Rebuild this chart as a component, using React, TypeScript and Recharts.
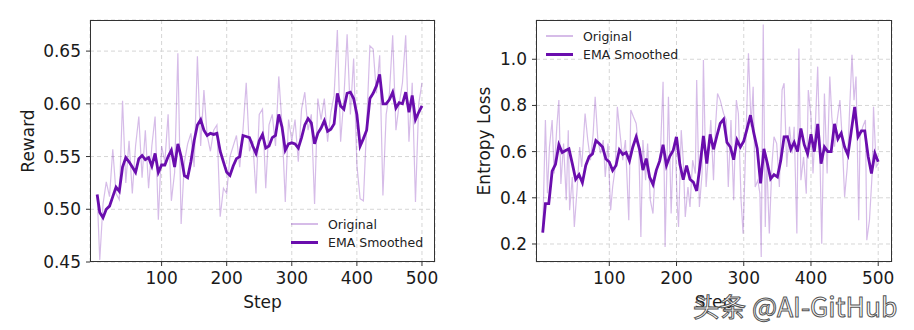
import { CartesianGrid, Line, LineChart, XAxis, YAxis } from "recharts";

// shared 5-step grid for reward (both series) and entropy EMA
const gridSteps = [
  1, 5, 10, 15, 20, 25, 30, 35, 40, 45,
  50, 55, 60, 65, 70, 75, 80, 85, 90, 95,
  100, 105, 110, 115, 120, 125, 130, 135, 140, 145,
  150, 155, 160, 165, 170, 175, 180, 185, 190, 195,
  200, 205, 210, 215, 220, 225, 230, 235, 240, 245,
  250, 255, 260, 265, 270, 275, 280, 285, 290, 295,
  300, 305, 310, 315, 320, 325, 330, 335, 340, 345,
  350, 355, 360, 365, 370, 375, 380, 385, 390, 395,
  400, 405, 410, 415, 420, 425, 430, 435, 440, 445,
  450, 455, 460, 465, 470, 475, 480, 485, 490, 495,
  500,
];

const rewardRaw = [
  0.514, 0.452, 0.505, 0.526, 0.512, 0.557, 0.515, 0.509, 0.603, 0.525,
  0.565, 0.515, 0.56, 0.588, 0.53, 0.575, 0.52, 0.56, 0.588, 0.49,
  0.56, 0.545, 0.59, 0.508, 0.535, 0.648, 0.486, 0.545, 0.562, 0.572,
  0.54, 0.645, 0.56, 0.613, 0.57, 0.555, 0.575, 0.58, 0.493, 0.52,
  0.515, 0.55, 0.56, 0.57, 0.54, 0.575, 0.62, 0.555, 0.565, 0.515,
  0.59, 0.595, 0.52, 0.58, 0.59, 0.56, 0.626, 0.58, 0.507, 0.585,
  0.565, 0.585, 0.545, 0.595, 0.611, 0.575, 0.59, 0.505, 0.605, 0.585,
  0.605, 0.564, 0.592, 0.608, 0.67, 0.564, 0.605, 0.666, 0.59, 0.643,
  0.542, 0.51, 0.508, 0.58, 0.655, 0.652, 0.61, 0.646, 0.513, 0.59,
  0.61, 0.665, 0.575, 0.6, 0.62, 0.665, 0.564, 0.62, 0.507, 0.6,
  0.62,
];

const rewardEma = [
  0.514, 0.497, 0.492, 0.5, 0.503, 0.512, 0.521, 0.517, 0.54, 0.549,
  0.545, 0.54, 0.535, 0.548, 0.551, 0.547, 0.549, 0.541, 0.553, 0.535,
  0.542, 0.542, 0.55, 0.556, 0.54, 0.562, 0.55, 0.532, 0.53, 0.545,
  0.565, 0.58, 0.585, 0.575, 0.57, 0.572, 0.571, 0.572, 0.555, 0.545,
  0.535, 0.532, 0.541, 0.548, 0.55, 0.57, 0.569, 0.568, 0.56, 0.553,
  0.565, 0.571, 0.558, 0.56, 0.568, 0.57, 0.59, 0.578, 0.556, 0.562,
  0.563, 0.562, 0.558, 0.568, 0.58, 0.586, 0.582, 0.562, 0.572, 0.577,
  0.584, 0.574, 0.576, 0.581, 0.61, 0.598, 0.595, 0.61, 0.611, 0.605,
  0.59, 0.56, 0.567, 0.575, 0.605, 0.61, 0.617, 0.628, 0.6, 0.6,
  0.604, 0.611, 0.596, 0.601, 0.6, 0.611, 0.592, 0.608, 0.585, 0.592,
  0.598,
];

const entropyRawSteps = [
  1, 5, 8, 11, 15, 18, 22, 25, 28, 32,
  36, 39, 41, 45, 48, 52, 56, 59, 64, 68,
  72, 76, 79, 83, 87, 91, 94, 98, 102, 105,
  109, 112, 116, 120, 124, 129, 132, 136, 140, 144,
  147, 150, 154, 157, 161, 165, 168, 172, 176, 180,
  183, 186, 188, 192, 195, 198, 201, 203, 207, 210,
  213, 217, 220, 224, 228, 230, 234, 238, 240, 244,
  248, 251, 255, 258, 261, 265, 270, 274, 277, 281,
  285, 289, 292, 296, 299, 302, 307, 311, 314, 317,
  321, 324, 326, 329, 332, 334, 338, 342, 345, 349,
  353, 357, 360, 364, 368, 372, 375, 379, 382, 385,
  389, 393, 396, 400, 403, 406, 410, 413, 416, 420,
  424, 428, 431, 435, 439, 443, 446, 450, 454, 457,
  461, 464, 467, 471, 473, 477, 481, 483, 487, 491,
  493, 497, 500,
];

const entropyRaw = [
  0.25, 0.737, 0.42, 0.62, 0.737, 0.505, 0.71, 0.823, 0.46, 0.635,
  0.39, 0.693, 0.346, 0.49, 0.274, 0.433, 0.62, 0.534, 0.765, 0.65,
  0.563, 0.678, 0.838, 0.65, 0.592, 0.65, 0.49, 0.635, 0.346, 0.447,
  0.534, 0.794, 0.678, 0.563, 0.65, 0.303, 0.78, 0.75, 0.722, 0.606,
  0.23, 0.65, 0.476, 0.635, 0.39, 0.332, 0.505, 0.534, 0.592, 0.903,
  0.187, 0.577, 0.838, 0.332, 0.606, 0.664, 0.375, 0.274, 0.693, 0.563,
  0.317, 0.447, 0.36, 0.563, 0.505, 0.91, 0.36, 0.505, 0.997, 0.447,
  0.606, 0.737, 0.476, 0.708, 0.852, 0.823, 0.765, 0.737, 0.447, 0.737,
  0.39, 0.823, 0.765, 0.39, 0.245, 0.534, 1.026, 0.708, 0.881, 0.447,
  0.476, 0.418, 0.144, 1.15, 0.274, 0.577, 0.245, 0.548, 0.664, 0.635,
  0.447, 0.867, 0.896, 0.534, 0.708, 0.592, 0.708, 0.245, 1.047, 0.476,
  0.577, 0.418, 0.867, 0.751, 0.505, 0.679, 0.968, 0.621, 0.201, 0.852,
  0.505, 0.925, 0.751, 0.621, 0.737, 0.823, 0.679, 0.404, 0.534, 0.751,
  1.019, 0.823, 0.925, 0.303, 0.664, 0.708, 0.737, 0.216, 0.303, 0.505,
  0.794, 0.534, 0.548,
];

const entropyEma = [
  0.249, 0.375, 0.375, 0.515, 0.545, 0.63, 0.596, 0.605, 0.612, 0.548,
  0.48, 0.5, 0.465, 0.54, 0.578, 0.59, 0.648, 0.635, 0.62, 0.568,
  0.555, 0.518, 0.54, 0.608, 0.588, 0.596, 0.56, 0.62, 0.664, 0.61,
  0.52, 0.57, 0.49, 0.458, 0.52, 0.56, 0.63, 0.54, 0.58, 0.605,
  0.664, 0.545, 0.478, 0.54, 0.48, 0.468, 0.43, 0.54, 0.668, 0.548,
  0.675, 0.61, 0.668, 0.722, 0.74, 0.64, 0.62, 0.565, 0.65, 0.62,
  0.645, 0.7, 0.758, 0.68, 0.614, 0.462, 0.612, 0.55, 0.482, 0.5,
  0.49, 0.56, 0.664, 0.665, 0.61, 0.64, 0.6, 0.7, 0.63, 0.59,
  0.675, 0.6, 0.72, 0.548, 0.62, 0.6, 0.6, 0.72, 0.655, 0.68,
  0.62, 0.585, 0.69, 0.794, 0.664, 0.69, 0.69, 0.58, 0.505, 0.592,
  0.556,
];

const stepTicks = [100, 200, 300, 400, 500];
const rewardTicks = [0.45, 0.5, 0.55, 0.6, 0.65];
const entropyTicks = [0.2, 0.4, 0.6, 0.8, 1.0];

const PURPLE = "#6A0DAD";
const FONT = "'DejaVu Sans', sans-serif";

type Row = { step: number; raw?: number; ema?: number };

function mergeRows(rawSteps: number[], raw: number[], emaSteps: number[], ema: number[]) {
  const byStep = new Map<number, Row>();
  rawSteps.forEach((s, i) => {
    const r = byStep.get(s) ?? { step: s };
    r.raw = raw[i];
    byStep.set(s, r);
  });
  emaSteps.forEach((s, i) => {
    const r = byStep.get(s) ?? { step: s };
    r.ema = ema[i];
    byStep.set(s, r);
  });
  return [...byStep.values()].sort((a, b) => a.step - b.step);
}

const rewardRows = mergeRows(gridSteps, rewardRaw, gridSteps, rewardEma);
const entropyRows = mergeRows(entropyRawSteps, entropyRaw, gridSteps, entropyEma);

type PanelProps = {
  left: number;
  width: number;
  axisW: number;
  rightPad: number;
  rows: Row[];
  xDomain: [number, number];
  yDomain: [number, number];
  yTicks: number[];
  digits: number;
  yLabel: string;
  yLabelX: number;
  legendX: number;
  legendY: number;
};

function Panel(p: PanelProps) {
  const plotLeft = p.left + p.axisW;
  const plotRight = p.left + p.width - p.rightPad;
  const tick = { fill: "#1a1a1a", fontSize: 17, fontFamily: FONT };
  return (
    <>
      <div style={{ position: "absolute", left: p.left, top: 0 }}>
        <LineChart
          width={p.width}
          height={330}
          data={p.rows}
          margin={{ top: 20, right: p.rightPad, bottom: 18, left: 0 }}
        >
          <CartesianGrid stroke="#d6d6d6" strokeDasharray="4 3" />
          <XAxis
            type="number"
            dataKey="step"
            domain={p.xDomain}
            ticks={stepTicks}
            allowDataOverflow
            height={50}
            axisLine={false}
            tickSize={4}
            tickMargin={6}
            tickLine={{ stroke: "#333" }}
            tick={tick}
          />
          <YAxis
            type="number"
            domain={p.yDomain}
            ticks={p.yTicks}
            allowDataOverflow
            width={p.axisW}
            axisLine={false}
            tickSize={4}
            tickMargin={5}
            tickLine={{ stroke: "#333" }}
            tick={tick}
            tickFormatter={(v: number) => v.toFixed(p.digits)}
          />
          <Line
            dataKey="raw"
            type="linear"
            stroke={PURPLE}
            strokeOpacity={0.28}
            strokeWidth={1.2}
            dot={false}
            connectNulls
            isAnimationActive={false}
          />
          <Line
            dataKey="ema"
            type="linear"
            stroke={PURPLE}
            strokeWidth={2.8}
            dot={false}
            connectNulls
            isAnimationActive={false}
          />
        </LineChart>
      </div>
      {/* frame on all four sides */}
      <div
        style={{
          position: "absolute",
          left: plotLeft,
          top: 20,
          width: plotRight - plotLeft,
          height: 242,
          boxSizing: "border-box",
          border: "1px solid #333",
          pointerEvents: "none",
        }}
      />
      <div
        style={{
          position: "absolute",
          left: p.yLabelX - 100,
          top: 141 - 11,
          width: 200,
          height: 22,
          lineHeight: "22px",
          textAlign: "center",
          transform: "rotate(-90deg)",
          fontFamily: FONT,
          fontSize: 17,
          color: "#1a1a1a",
        }}
      >
        {p.yLabel}
      </div>
      <div
        style={{
          position: "absolute",
          left: (plotLeft + plotRight) / 2 - 50,
          top: 291,
          width: 100,
          height: 22,
          lineHeight: "22px",
          textAlign: "center",
          fontFamily: FONT,
          fontSize: 17,
          color: "#1a1a1a",
        }}
      >
        Step
      </div>
      <Legend x={p.legendX} y={p.legendY} />
    </>
  );
}

function Legend({ x, y }: { x: number; y: number }) {
  const items = [
    { label: "Original", width: 1.3, opacity: 0.28 },
    { label: "EMA Smoothed", width: 3, opacity: 1 },
  ];
  return (
    <>
      {items.map((it, i) => (
        <div
          key={it.label}
          style={{
            position: "absolute",
            left: x,
            top: y + i * 18.8 - 9,
            height: 18,
            display: "flex",
            alignItems: "center",
            fontFamily: FONT,
            fontSize: 12.5,
            color: "#222",
            whiteSpace: "nowrap",
          }}
        >
          <div
            style={{
              width: 27,
              height: it.width,
              background: PURPLE,
              opacity: it.opacity,
              marginRight: 10,
            }}
          />
          {it.label}
        </div>
      ))}
    </>
  );
}

export default function App() {
  return (
    <div
      style={{
        position: "fixed",
        left: 0,
        top: 0,
        width: 914,
        height: 330,
        background: "#fff",
        overflow: "hidden",
      }}
    >
      <Panel
        left={0}
        width={460}
        axisW={90}
        rightPad={25}
        rows={rewardRows}
        xDomain={[-10, 520]}
        yDomain={[0.45, 0.6795]}
        yTicks={rewardTicks}
        digits={2}
        yLabel="Reward"
        yLabelX={28}
        legendX={291}
        legendY={224}
      />
      <Panel
        left={460}
        width={454}
        axisW={76}
        rightPad={22}
        rows={entropyRows}
        xDomain={[-9, 520.5]}
        yDomain={[0.122, 1.17]}
        yTicks={entropyTicks}
        digits={1}
        yLabel="Entropy Loss"
        yLabelX={484}
        legendX={546}
        legendY={36}
      />
      <div
        style={{
          position: "absolute",
          left: 693,
          top: 292,
          height: 27,
          fontFamily: "'Noto Sans CJK SC', sans-serif",
          fontSize: 26.5,
          lineHeight: "27px",
          color: "#fff",
          WebkitTextStroke: "1px #555",
          whiteSpace: "nowrap",
        }}
      >
        头条 @AI-GitHub
      </div>
    </div>
  );
}
